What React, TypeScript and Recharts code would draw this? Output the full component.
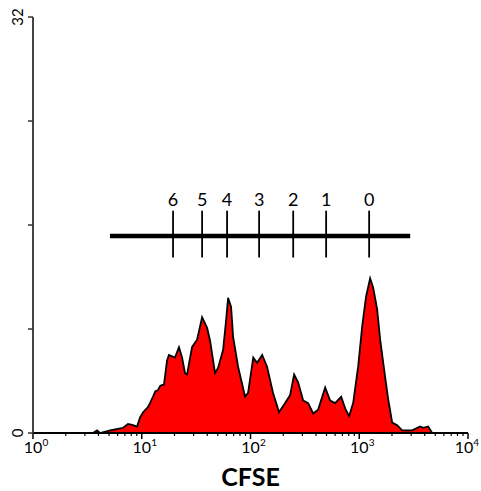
import React from 'react';
import { ComposedChart, Area, XAxis, YAxis, ReferenceLine } from 'recharts';

// Histogram: CFSE fluorescence intensity (log axis) vs. event count
const cfseIntensity = [
  3.56, 3.88, 4.13, 5.11, 6.73, 7.48, 8.32, 9.06, 9.64, 10.3, 11.4, 11.9, 12.7, 13.3, 14.1,
  14.7, 15.4, 16.0, 17.1, 17.8, 19.0, 20.2, 22.0, 23.5, 25.0, 26.1, 29.0, 32.3, 35.9, 39.9,
  42.5, 47.2, 50.3, 56.0, 59.7, 62.2, 66.3, 69.2, 76.9, 89.2, 95.1, 106, 115, 128, 142,
  161, 183, 208, 231, 252, 274, 305, 339, 377, 419, 486, 540, 600, 682, 742,
  807, 879, 977, 1064, 1156, 1259, 1342, 1461, 1556, 1730, 1845, 2009, 2232, 2481, 3067,
  3634, 3871, 4302, 4686,
];
const eventCount = [
  0, 0.2, 0, 0.2, 0.4, 0.7, 0.6, 0.5, 1.2, 1.6, 2.0, 2.3, 2.8, 3.2, 3.3,
  3.6, 3.7, 3.7, 5.6, 6.0, 5.9, 5.8, 6.6, 5.8, 4.6, 4.5, 6.6, 7.2, 8.9, 8.1,
  7.1, 4.6, 5.0, 6.4, 8.7, 10.4, 9.7, 7.4, 5.1, 2.8, 3.1, 5.8, 5.4, 6.0, 5.1,
  3.1, 1.6, 2.3, 2.9, 4.5, 3.9, 2.5, 2.3, 1.5, 1.8, 3.5, 2.5, 2.3, 2.8, 1.9,
  1.3, 2.3, 5.1, 8.2, 10.5, 11.9, 11.2, 9.5, 7.2, 4.3, 2.6, 0.8, 0.6, 0.2, 0.2,
  0.5, 0.4, 0.5, 0,
];

// Division generations gate marker
const generationLabels = ['6', '5', '4', '3', '2', '1', '0'];
const generationPeaks = [19.4, 35.9, 60.9, 120, 247, 496, 1233];
const gateRange = [5.1, 2940];
const gateLevel = 15.15;
const gateTickSpan = [13.5, 17.1];

// Axis ticks
const xMajorTicks = [1, 10, 100, 1000, 10000];
const xTicks = [
  1, 2, 3, 4, 5, 6, 7, 8, 9,
  10, 20, 30, 40, 50, 60, 70, 80, 90,
  100, 200, 300, 400, 500, 600, 700, 800, 900,
  1000, 2000, 3000, 4000, 5000, 6000, 7000, 8000, 9000,
  10000,
];
const yTicks = [0, 8, 16, 24, 32];
const yLabeled = [0, 32];

const histData = cfseIntensity.map((x, i) => ({ x, y: eventCount[i] }));

const FONT = 'Lato, "Open Sans", sans-serif';

const XTick = (props: any) => {
  const { x, y, payload } = props;
  const v = payload.value;
  const isMajor = xMajorTicks.includes(v);
  const exp = Math.round(Math.log10(v));
  const isLast = v === xMajorTicks[xMajorTicks.length - 1];
  return (
    <g>
      <line x1={x} x2={x} y1={y} y2={y + (isMajor ? 6 : 3)} stroke="#000" strokeWidth={isMajor ? 1.5 : 1.2} />
      {isMajor && (
        <text
          x={isLast ? 479 : x + 3}
          y={y + 20}
          textAnchor={isLast ? 'end' : 'middle'}
          fontFamily={FONT}
          fontSize={16}
          fill="#000"
        >
          10
          <tspan dy={-7} fontSize={10}>{exp}</tspan>
        </text>
      )}
    </g>
  );
};

const YTick = (props: any) => {
  const { x, y, payload } = props;
  const v = payload.value;
  const cx = 17;
  return (
    <g>
      <line x1={x - 5} x2={x} y1={y} y2={y} stroke="#333" strokeWidth={1.5} />
      {yLabeled.includes(v) && (
        <text
          x={cx}
          y={y}
          transform={`rotate(-90, ${cx}, ${y})`}
          textAnchor="middle"
          dominantBaseline="central"
          fontFamily={FONT}
          fontSize={15}
          fill="#000"
        >
          {v}
        </text>
      )}
    </g>
  );
};

export default function App() {
  return (
    <div style={{ position: 'absolute', left: 0, top: 0, width: 481, height: 491, background: '#fff' }}>
      <ComposedChart
        width={481}
        height={491}
        data={histData}
        margin={{ top: 17, right: 13, bottom: 0, left: 0 }}
      >
        <XAxis
          dataKey="x"
          type="number"
          scale="log"
          domain={[1, 10000]}
          allowDataOverflow
          ticks={xTicks}
          interval={0}
          tick={<XTick />}
          tickLine={false}
          tickSize={0}
          tickMargin={0}
          height={58}
          axisLine={{ stroke: '#000', strokeWidth: 2 }}
          label={{ value: 'CFSE', position: 'insideBottom', offset: 5, fontFamily: FONT, fontSize: 25, fontWeight: 700, fill: '#000' }}
        />
        <YAxis
          type="number"
          domain={[0, 32]}
          ticks={yTicks}
          interval={0}
          tick={<YTick />}
          tickLine={false}
          tickSize={0}
          tickMargin={0}
          width={33}
          axisLine={{ stroke: '#444', strokeWidth: 2 }}
        />
        <Area
          dataKey="y"
          type="linear"
          fill="#ff0000"
          fillOpacity={1}
          stroke="#000"
          strokeWidth={1.8}
          baseValue={0}
          isAnimationActive={false}
          dot={false}
          activeDot={false}
        />
        <ReferenceLine
          segment={[{ x: gateRange[0], y: gateLevel }, { x: gateRange[1], y: gateLevel }]}
          stroke="#000"
          strokeWidth={4.5}
          ifOverflow="visible"
        />
        {generationPeaks.map((gx, i) => (
          <ReferenceLine
            key={generationLabels[i]}
            segment={[{ x: gx, y: gateTickSpan[0] }, { x: gx, y: gateTickSpan[1] }]}
            stroke="#000"
            strokeWidth={1.8}
            ifOverflow="visible"
            label={{ value: generationLabels[i], position: 'top', offset: 5, fontFamily: FONT, fontSize: 18, fill: '#000' }}
          />
        ))}
      </ComposedChart>
    </div>
  );
}
